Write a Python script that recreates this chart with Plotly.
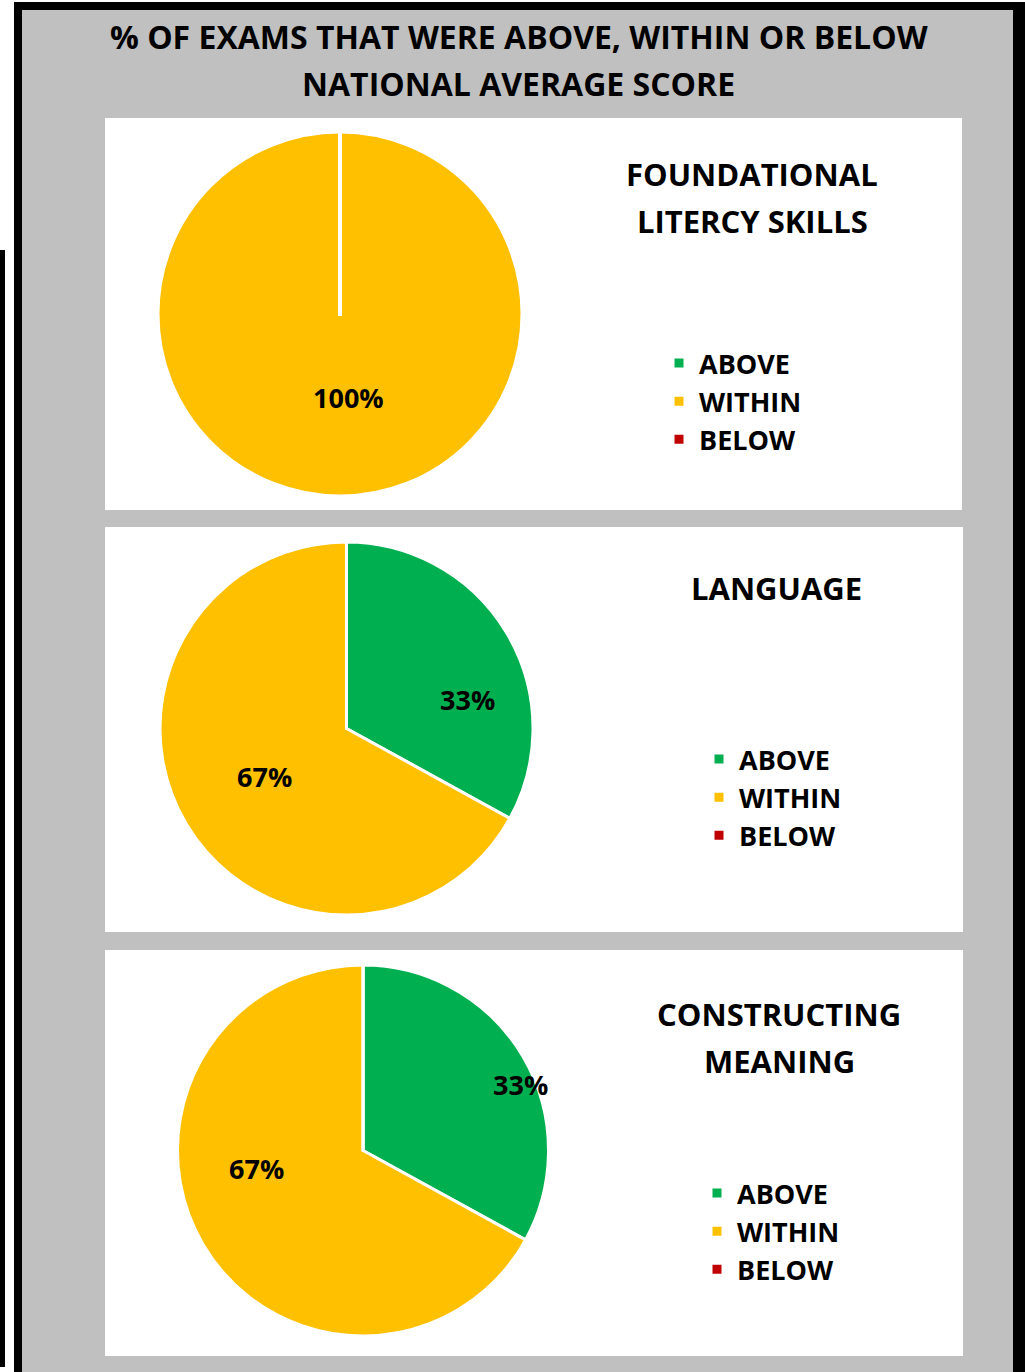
import math
import plotly.graph_objects as go

W, H = 1025, 1372

categories = ["ABOVE", "WITHIN", "BELOW"]
colors = ["#00B050", "#FFC000", "#C00000"]

panel_titles = [["FOUNDATIONAL", "LITERCY SKILLS"], ["LANGUAGE"], ["CONSTRUCTING", "MEANING"]]
foundational = [0, 100, 0]
language = [33, 67, 0]
constructing = [33, 67, 0]
series = [foundational, language, constructing]

main_title = ["% OF EXAMS THAT WERE ABOVE, WITHIN OR BELOW", "NATIONAL AVERAGE SCORE"]

FONT = "Open Sans"


def px(x):
    return x / W


def py(y):
    return 1 - y / H


# layout geometry (pixels) -- style only
panels = [(105, 118, 962, 510), (105, 527, 963, 932), (105, 950, 963, 1356)]
pies = [(340, 314, 182), (346.5, 728.5, 186.5), (363, 1150.5, 185.5)]
title_pos = [(752, 174), (776, 588), (779, 1014)]
title_gap = 47
legend_pos = [(659, 339), (699, 735), (697, 1169)]
# data-label placement: (radius fraction, angle nudge in degrees) per slice
label_place = [
    [(0.6, 0), (0.46, -6), (0.6, 0)],
    [(0.67, 17), (0.51, 0), (0.6, 0)],
    [(0.92, 8), (0.58, 21), (0.6, 0)],
]

fig = go.Figure()
shapes = []
annotations = []

# background + frame
shapes.append(dict(type="rect", xref="paper", yref="paper", x0=px(22), x1=px(1013), y0=0, y1=py(10),
                   fillcolor="#C0C0C0", line=dict(width=0), layer="below"))
shapes.append(dict(type="rect", xref="paper", yref="paper", x0=px(14), x1=px(1025), y0=py(10), y1=py(2),
                   fillcolor="black", line=dict(width=0), layer="below"))
shapes.append(dict(type="rect", xref="paper", yref="paper", x0=px(14), x1=px(22), y0=0, y1=py(2),
                   fillcolor="black", line=dict(width=0), layer="below"))
shapes.append(dict(type="rect", xref="paper", yref="paper", x0=px(1013), x1=px(1025), y0=0, y1=py(2),
                   fillcolor="black", line=dict(width=0), layer="below"))
shapes.append(dict(type="rect", xref="paper", yref="paper", x0=0, x1=px(5), y0=py(1367), y1=py(250),
                   fillcolor="black", line=dict(width=0), layer="below"))

for i, (vals, ttl) in enumerate(zip(series, panel_titles)):
    x0, y0, x1, y1 = panels[i]
    shapes.append(dict(type="rect", xref="paper", yref="paper", x0=px(x0), x1=px(x1), y0=py(y1), y1=py(y0),
                       fillcolor="white", line=dict(width=0), layer="below"))
    cx, cy, r = pies[i]
    lg = "legend" if i == 0 else f"legend{i + 1}"
    fig.add_trace(go.Pie(
        labels=categories, values=vals, sort=False, direction="clockwise", rotation=0,
        marker=dict(colors=colors, line=dict(color="white", width=3)),
        textinfo="none",
        domain=dict(x=[px(cx - r), px(cx + r)], y=[py(cy + r), py(cy - r)]),
        legend=lg, legendgroup=f"g{i}", showlegend=True, hoverinfo="label+percent",
    ))
    # data labels at each slice's mid angle
    total = sum(vals)
    cum = 0
    for j, v in enumerate(vals):
        if v <= 0:
            cum += v
            continue
        frac_r, nudge = label_place[i][j]
        mid = (cum + v / 2) / total * 360 + nudge
        cum += v
        lx = cx + frac_r * r * math.sin(math.radians(mid))
        ly = cy - frac_r * r * math.cos(math.radians(mid))
        annotations.append(dict(text=f"<b>{round(v / total * 100)}%</b>", x=px(lx), y=py(ly),
                                xref="paper", yref="paper", showarrow=False,
                                font=dict(family=FONT, size=27, color="black"),
                                xanchor="center", yanchor="middle"))
    tx, ty = title_pos[i]
    for k, line in enumerate(ttl):
        annotations.append(dict(text=f"<b>{line}</b>", x=px(tx), y=py(ty + k * title_gap),
                                xref="paper", yref="paper", showarrow=False,
                                font=dict(family=FONT, size=31, color="black"),
                                xanchor="center", yanchor="middle"))
    # white radial line where a full slice meets itself
    if sum(1 for v in vals if v > 0) == 1:
        shapes.append(dict(type="line", xref="paper", yref="paper", x0=px(cx), x1=px(cx),
                           y0=py(cy + 2), y1=py(cy - r), line=dict(color="white", width=4), layer="above"))

for k, line in enumerate(main_title):
    annotations.append(dict(text=f"<b>{line}</b>", x=px(518.5), y=py(36 + k * 47), xref="paper", yref="paper",
                            showarrow=False, font=dict(family=FONT, size=32, color="black"),
                            xanchor="center", yanchor="middle"))

legend_style = dict(font=dict(family=FONT, size=27, color="black", weight="bold"), bgcolor="rgba(0,0,0,0)",
                    xanchor="left", yanchor="top", itemwidth=30, traceorder="normal",
                    itemclick=False, itemdoubleclick=False, visible=True)
layout_legends = {}
for i, (lx, ly) in enumerate(legend_pos):
    key = "legend" if i == 0 else f"legend{i + 1}"
    layout_legends[key] = dict(legend_style, x=px(lx), y=py(ly))

fig.update_layout(
    width=W, height=H, margin=dict(l=0, r=0, t=0, b=0),
    paper_bgcolor="white", plot_bgcolor="white", showlegend=True,
    shapes=shapes, annotations=annotations,
    **layout_legends,
)

fig.write_html("out.html", config={"displayModeBar": False},
               post_script="document.body.style.margin='0';")
